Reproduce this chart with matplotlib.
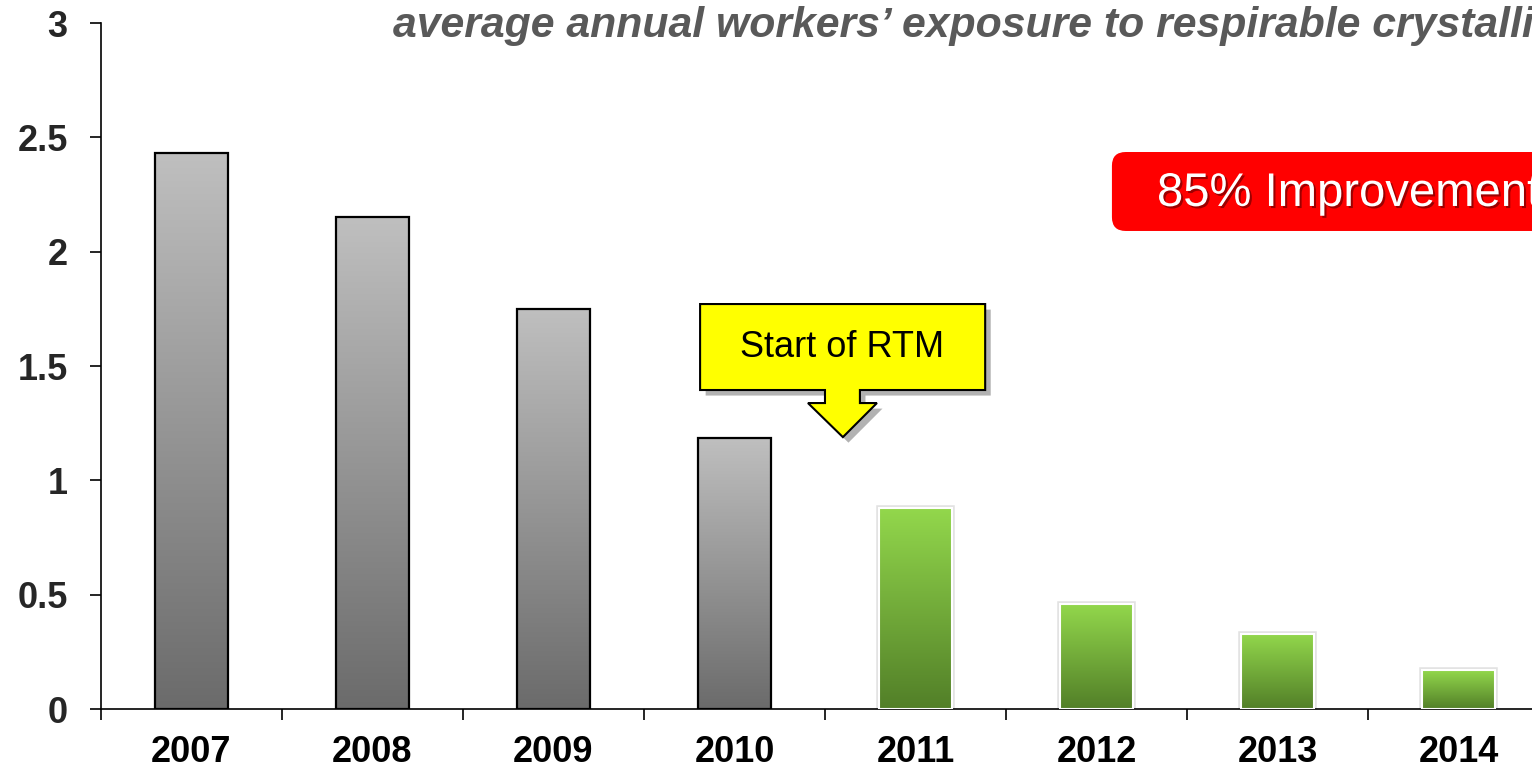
import matplotlib.pyplot as plt
import matplotlib.patheffects as pe
import numpy as np
from matplotlib.colors import LinearSegmentedColormap
from matplotlib.patches import FancyBboxPatch, Polygon

plt.rcParams["font.family"] = ["Liberation Sans", "DejaVu Sans"]

years = ["2007", "2008", "2009", "2010", "2011", "2012", "2013", "2014"]
exposure = [2.43, 2.15, 1.75, 1.185, 0.88, 0.46, 0.33, 0.17]
after_rtm = [False, False, False, False, True, True, True, True]
y_ticks = [0, 0.5, 1, 1.5, 2, 2.5, 3]
y_tick_labels = ["0", "0.5", "1", "1.5", "2", "2.5", "3"]

title = "average annual workers\u2019 exposure to respirable crystalline silica"
callout_text = "Start of RTM"
badge_text = "85% Improvement"

grey_cmap = LinearSegmentedColormap.from_list("grey", ["#6b6b6b", "#bfbfbf"])
green_cmap = LinearSegmentedColormap.from_list("green", ["#527f28", "#93d84c"])

fig = plt.figure(figsize=(15.32, 7.72), dpi=100)
ax = fig.add_axes([0.0659, 0.0816, 0.9452, 0.8886])

x = np.arange(len(years))
bar_width = 0.40
gradient = np.linspace(0, 1, 256).reshape(-1, 1)

for xi, val, green in zip(x, exposure, after_rtm):
    if green:
        # soft grey glow behind the green bars
        ax.bar(xi, val, width=bar_width, color="none", edgecolor="#e2e2e2",
               linewidth=4, zorder=1.5)
        bar = ax.bar(xi, val, width=bar_width, color="none", edgecolor="white",
                     linewidth=1.5, zorder=3)[0]
        cmap = green_cmap
    else:
        bar = ax.bar(xi, val, width=bar_width, color="none", edgecolor="black",
                     linewidth=1.6, zorder=3)[0]
        cmap = grey_cmap
    img = ax.imshow(gradient, cmap=cmap, origin="lower", aspect="auto",
                    extent=[xi - bar_width / 2, xi + bar_width / 2, 0, val], zorder=2)
    img.set_clip_path(bar)

ax.set_xlim(-0.5, len(years) - 0.5)
ax.set_ylim(0, 3)
ax.set_yticks(y_ticks)
ax.set_yticklabels(y_tick_labels)
ax.set_xticks(np.arange(len(years) + 1) - 0.5, minor=False)
ax.set_xticklabels([""] * (len(years) + 1))
ax.set_xticks(x, minor=True)
ax.set_xticklabels(years, minor=True)
ax.tick_params(axis="x", which="minor", length=0, pad=19, labelsize=26)
ax.tick_params(axis="x", which="major", length=8, width=1.2, direction="out")
ax.tick_params(axis="y", length=8, width=1.2, direction="out", pad=16,
               labelsize=26, labelcolor="#262626")
for lbl in ax.get_xticklabels(minor=True) + ax.get_yticklabels():
    lbl.set_fontweight("bold")
for side in ["top", "right"]:
    ax.spines[side].set_visible(False)
for side in ["left", "bottom"]:
    ax.spines[side].set_linewidth(1.2)

# title, cropped at the right edge like the slide
fig.text(0.2565, 0.9521, title, fontsize=30.8, fontweight="bold", fontstyle="italic",
         color="#595959", ha="left", va="baseline")

# yellow "Start of RTM" callout arrow
callout = Polygon([(2.81, 1.771), (4.385, 1.771), (4.385, 1.395), (3.693, 1.395),
                   (3.693, 1.338), (3.787, 1.338), (3.599, 1.189), (3.406, 1.338),
                   (3.50, 1.338), (3.50, 1.395), (2.81, 1.395)],
                  closed=True, facecolor="#ffff00", edgecolor="black", linewidth=1.5,
                  zorder=5)
callout.set_path_effects([pe.SimplePatchShadow(offset=(4, -4), shadow_rgbFace="black",
                                               alpha=0.3), pe.Normal()])
ax.add_patch(callout)
ax.text(3.597, 1.583, callout_text, fontsize=26, ha="center", va="center", zorder=6)

# red improvement badge
badge = FancyBboxPatch((0.7258, 0.7008), 0.35, 0.1023,
                       boxstyle="round,pad=0,rounding_size=0.009",
                       transform=fig.transFigure, facecolor="#ff0000",
                       edgecolor="none", mutation_aspect=1.98)
fig.patches.append(badge)
fig.text(0.7552, 0.7332, badge_text, fontsize=34, color="white", ha="left", va="baseline",
         path_effects=[pe.withSimplePatchShadow(offset=(1.5, -1.5), shadow_rgbFace="#5a0000",
                                                alpha=0.6)])

fig.savefig("out.png", dpi=100)
